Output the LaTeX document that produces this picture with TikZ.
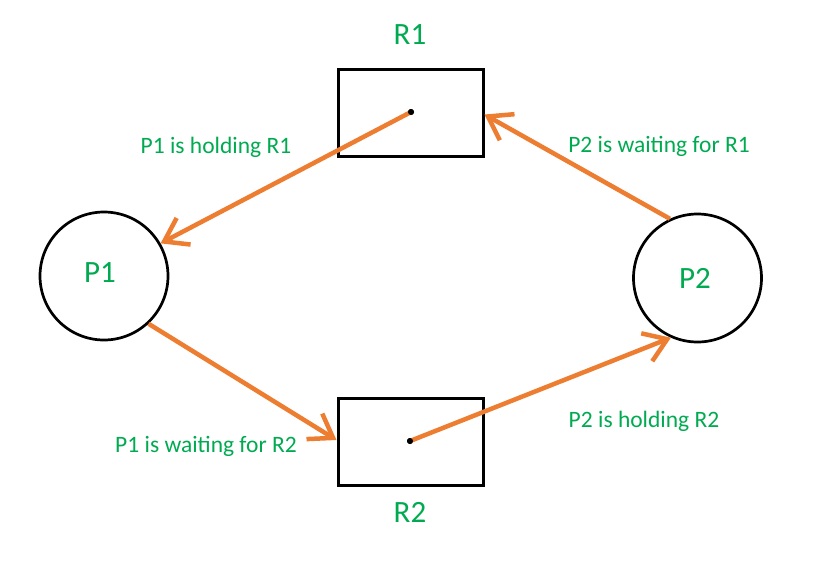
\documentclass[tikz,border=0pt]{standalone}
\usepackage{fontspec}
\setmainfont{Carlito}
\usetikzlibrary{arrows.meta}
\definecolor{lblgreen}{RGB}{0,170,80}
\definecolor{arrorange}{RGB}{237,125,49}
\begin{document}
\begin{tikzpicture}[x=1pt,y=-1pt,
  resbox/.style={draw=black,line width=3pt,minimum width=145pt,minimum height=87pt,inner sep=0pt},
  procnode/.style={draw=black,line width=2.7pt,circle,minimum size=128pt,inner sep=0pt},
  dotnode/.style={circle,fill=black,minimum size=6pt,inner sep=0pt},
  biglabel/.style={text=lblgreen,font=\fontsize{31}{36}\selectfont,anchor=base,inner sep=0pt},
  smalllabel/.style={text=lblgreen,font=\fontsize{23.5}{28}\selectfont,anchor=base,inner sep=0pt},
  edge/.style={draw=arrorange,line width=4.5pt,-{Straight Barb[length=22pt,width=30pt]}}
]
\useasboundingbox (0,0) rectangle (819,566);
\node[resbox] (R1) at (410.5,112.5) {};
\node[resbox] (R2) at (410.5,442) {};
\node[procnode] (P1) at (104,276) {};
\node[procnode] (P2) at (697.5,278) {};
\node[dotnode] (d1) at (411,112) {};
\node[dotnode] (d2) at (410,441) {};
\node[biglabel] (tR1) at (410,44) {R1};
\node[biglabel] (tR2) at (410,522) {R2};
\node[biglabel] (tP1) at (100,282) {P1};
\node[biglabel] (tP2) at (695,288) {P2};
\node[smalllabel] (l1) at (216,153) {P1 is holding R1};
\node[smalllabel] (l2) at (659,152) {P2 is waiting for R1};
\node[smalllabel] (l3) at (206,452) {P1 is waiting for R2};
\node[smalllabel] (l4) at (644,427) {P2 is holding R2};
\draw[edge] (d1.center) -- (P1.30);
\draw[edge] (P2.115) -- ([yshift=-2pt]R1.east);
\draw[edge] (P1.-47) -- ([yshift=2pt]R2.west);
\draw[edge] (d2.center) -- (P2.-114);
\node[dotnode] at (d1) {};
\node[dotnode] at (d2) {};
\end{tikzpicture}
\end{document}
